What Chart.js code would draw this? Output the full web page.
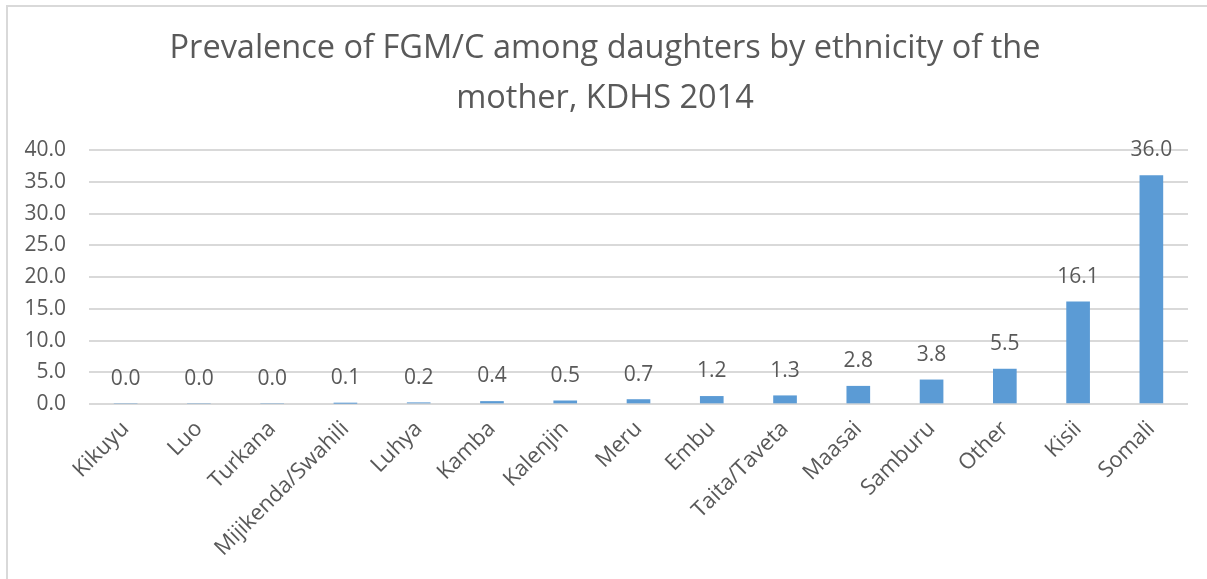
<!DOCTYPE html>
<html>
<head>
<meta charset="utf-8">
<script src="https://cdn.jsdelivr.net/npm/chart.js@4/dist/chart.umd.min.js"></script>
<style>
  html, body { margin: 0; padding: 0; background: #fff; }
  #frame {
    position: absolute; left: 6px; top: 5px;
    width: 1201px; height: 574px;
    border-top: 2px solid #d9d9d9; border-left: 2px solid #d9d9d9;
    box-sizing: border-box;
  }
  #wrap { position: absolute; left: 0; top: 0; width: 1199px; height: 572px; }
</style>
</head>
<body>
<div id="frame"><div id="wrap"><canvas id="chart"></canvas></div></div>
<script>
// Prevalence of FGM/C among daughters (%), by ethnicity of the mother
const categories = ["Kikuyu", "Luo", "Turkana", "Mijikenda/Swahili", "Luhya", "Kamba",
  "Kalenjin", "Meru", "Embu", "Taita/Taveta", "Maasai", "Samburu", "Other", "Kisii", "Somali"];
const prevalence = [0.0, 0.0, 0.0, 0.1, 0.2, 0.4, 0.5, 0.7, 1.2, 1.3, 2.8, 3.8, 5.5, 16.1, 36.0];
const titleLines = ["Prevalence of FGM/C among daughters by ethnicity of the", "mother, KDHS 2014"];
const yMin = 0, yMax = 40, yStep = 5;

const textColor = "#595959";
const fontFamily = "'Open Sans', 'DejaVu Sans', sans-serif";

// Value labels above each bar
const barValueLabels = {
  id: "barValueLabels",
  afterDatasetsDraw(chart) {
    const ctx = chart.ctx;
    const meta = chart.getDatasetMeta(0);
    const data = chart.data.datasets[0].data;
    ctx.save();
    ctx.font = "21px " + fontFamily;
    ctx.fillStyle = textColor;
    ctx.textAlign = "center";
    ctx.textBaseline = "middle";
    meta.data.forEach((bar, i) => {
      ctx.fillText(data[i].toFixed(1), bar.x, bar.y - 25);
    });
    ctx.restore();
  }
};

new Chart(document.getElementById("chart"), {
  type: "bar",
  data: {
    labels: categories,
    datasets: [{
      data: prevalence,
      backgroundColor: "#5B9BD5",
      borderWidth: 0,
      barThickness: 23
    }]
  },
  options: {
    responsive: true,
    maintainAspectRatio: false,
    animation: false,
    layout: { padding: { left: 14, right: 19, top: 0, bottom: 0 } },
    plugins: {
      legend: { display: false },
      tooltip: { enabled: false },
      title: {
        display: true,
        text: titleLines,
        color: textColor,
        font: { family: fontFamily, size: 32.5, weight: "normal", lineHeight: 1.54 },
        padding: { top: 17, bottom: 26 }
      }
    },
    scales: {
      x: {
        grid: { display: false, drawTicks: false },
        border: { display: false },
        ticks: {
          color: textColor,
          font: { family: fontFamily, size: 22 },
          maxRotation: 45, minRotation: 45,
          autoSkip: false,
          padding: 12
        },
        afterFit(scale) { scale.height = 175; }
      },
      y: {
        min: yMin, max: yMax,
        grid: { color: "#d9d9d9", lineWidth: 2, drawTicks: false },
        border: { display: false },
        ticks: {
          stepSize: yStep,
          color: textColor,
          font: { family: fontFamily, size: 21 },
          padding: 23,
          callback: (v) => Number(v).toFixed(1)
        },
        afterFit(scale) { scale.width = 67; }
      }
    }
  },
  plugins: [barValueLabels]
});
</script>
</body>
</html>
